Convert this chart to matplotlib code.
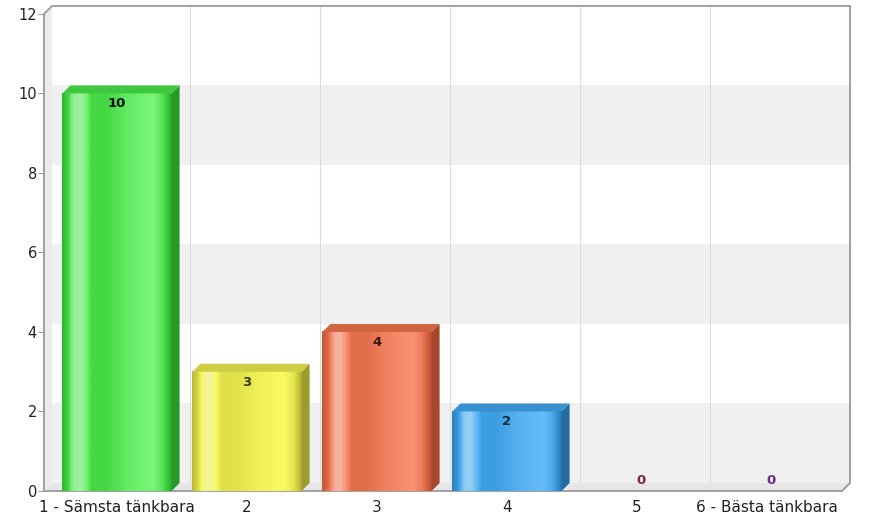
import numpy as np
import matplotlib.pyplot as plt
from matplotlib.patches import Polygon, Rectangle
from matplotlib.colors import to_rgb

categories = ["1 - Sämsta tänkbara", "2", "3", "4", "5", "6 - Bästa tänkbara"]
values = [10, 3, 4, 2, 0, 0]
# dark / base / bright tone of each bar
bar_dark = ["#2fbf2f", "#c4c238", "#d05a38", "#2a86cc", "#c0392b", "#8e44ad"]
bar_base = ["#44d844", "#e0e04a", "#e26e48", "#3c9ee2", "#c0392b", "#8e44ad"]
bar_light = ["#7af67a", "#fafa62", "#fa9272", "#66bcf8", "#c0392b", "#8e44ad"]
label_colors = ["#111111", "#3a3a10", "#3a1a10", "#102a40", "#7a2a3a", "#6a2a8a"]
y_ticks = [0, 2, 4, 6, 8, 10, 12]

# depth offset of the fake 3d back plane, in data units
DX = 8 / 130
DY = 8 / 39.75
XL = -0.5615          # front left wall
XR = 5.577            # front right end of the floor
BAR_W = 0.84

fig = plt.figure(figsize=(8.7, 5.19), dpi=100)
ax = fig.add_axes([40 / 870, 23 / 519, 816 / 870, 492 / 519])

# back wall bands and grid
for lo in (0, 4, 8):
    ax.add_patch(Rectangle((XL + DX, lo + DY), XR - XL, 2, color="#f0f0f0", lw=0, zorder=0))
for i in range(1, len(categories)):
    ax.plot([i - 0.5 + DX] * 2, [DY, 12 + DY], color="#dcdcdc", lw=0.8, zorder=1)

# left wall and floor
ax.add_patch(Polygon([(XL, 0), (XL + DX, DY), (XL + DX, 12 + DY), (XL, 12)],
                     color="#ececec", lw=0, zorder=1))
ax.add_patch(Polygon([(XL, 0), (XR, 0), (XR + DX, DY), (XL + DX, DY)],
                     color="#e6e6e6", lw=0, zorder=1))

frame = "#a0a0a0"
ax.plot([XL, XL, XL + DX, XR + DX, XR + DX, XR, XL],
        [0, 12, 12 + DY, 12 + DY, DY, 0, 0], color=frame, lw=1.4, zorder=2)


def lighten(c, t):
    c = np.array(to_rgb(c))
    return np.clip(c + (1 - c) * t, 0, 1)


def darken(c, t):
    return np.array(to_rgb(c)) * (1 - t)


# horizontal profile across each bar front: 0 = dark, 1 = base, 2 = bright, 3 = highlight
prof_x = [0.0, 0.05, 0.11, 0.17, 0.27, 0.4, 0.6, 0.83, 0.91, 1.0]
prof_k = [0.2, 0.8, 2.6, 2.8, 1.0, 1.0, 1.6, 2.0, 1.4, 0.0]
xs = np.linspace(0, 1, 160)
prof = np.interp(xs, prof_x, prof_k)

for i, v in enumerate(values):
    if v <= 0:
        ax.text(i + DX / 2, 0.1, "0", ha="center", va="bottom", fontsize=9.5,
                fontweight="bold", color=label_colors[i], zorder=6)
        continue
    stops = np.array([darken(bar_dark[i], 0.1), to_rgb(bar_base[i]), to_rgb(bar_light[i]),
                      lighten(bar_base[i], 0.55)])
    grad = np.array([[np.interp(k, [0, 1, 2, 3], stops[:, c]) for c in range(3)] for k in prof])
    x0, x1 = i - BAR_W / 2, i + BAR_W / 2
    ax.imshow(grad[None, :, :], extent=[x0, x1, 0, v], aspect="auto",
              interpolation="bilinear", zorder=4)
    ax.add_patch(Polygon([(x1, 0), (x1 + DX, DY), (x1 + DX, v + DY), (x1, v)],
                         color=darken(bar_dark[i], 0.2), lw=0, zorder=4))
    ax.add_patch(Polygon([(x0, v), (x1, v), (x1 + DX, v + DY), (x0 + DX, v + DY)],
                         color=darken(bar_base[i], 0.08), lw=0, zorder=4))
    ax.text(i, v - 0.1, str(v), ha="center", va="top", fontsize=9.5,
            fontweight="bold", color=label_colors[i], zorder=6)

ax.set_xlim((40 - 117) / 130, (856 - 117) / 130)
ax.set_ylim(-0.126, 12.25)

for s in ("top", "right", "bottom", "left"):
    ax.spines[s].set_visible(False)
ax.set_yticks(y_ticks)
ax.set_xticks(range(len(categories)))
ax.set_xticklabels(categories)
ax.tick_params(axis="y", length=4, color=frame, pad=1, labelsize=10.5, labelcolor="#222222")
ax.tick_params(axis="x", length=0, pad=3, labelsize=11, labelcolor="#222222")
# shift y ticks to the front wall
ax.spines["left"].set_position(("data", XL))

fig.savefig("out.png", dpi=100)
